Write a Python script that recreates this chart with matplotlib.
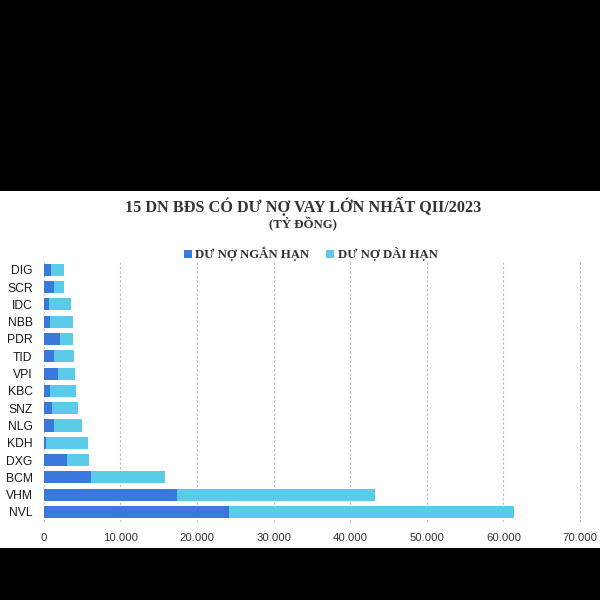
import matplotlib
matplotlib.use("Agg")
import matplotlib.pyplot as plt
from matplotlib.ticker import FuncFormatter

companies = ["NVL", "VHM", "BCM", "DXG", "KDH", "NLG", "SNZ", "KBC",
             "VPI", "TID", "PDR", "NBB", "IDC", "SCR", "DIG"]
short_term = [24220, 17360, 6210, 3000, 350, 1350, 1130, 870,
              1870, 1350, 2100, 780, 650, 1300, 1000]
long_term = [37200, 25940, 9680, 2900, 5420, 3690, 3390, 3300,
             2170, 2550, 1700, 3020, 2850, 1350, 1600]
x_ticks = [0, 10000, 20000, 30000, 40000, 50000, 60000, 70000]

title = "15 DN BĐS CÓ DƯ NỢ VAY LỚN NHẤT QII/2023"
subtitle = "(TỶ ĐỒNG)"
legend_labels = ["DƯ NỢ NGẮN HẠN", "DƯ NỢ DÀI HẠN"]

dark = "#3b78db"
light = "#5ccbe9"

fig = plt.figure(figsize=(6, 6), dpi=100)
fig.patch.set_facecolor("black")
bg = fig.add_axes([0, (600 - 548) / 600, 1, (548 - 191) / 600], zorder=-5)
bg.set_facecolor("white")
bg.set_xticks([])
bg.set_yticks([])
for s in bg.spines.values():
    s.set_visible(False)

ppx = (580 - 43.7) / 70000.0
ax = fig.add_axes([43.7 / 600, (600 - 522) / 600, (70500 * ppx) / 600, 260 / 600], zorder=1)
ax.set_facecolor("none")
pos = list(range(len(companies)))
ax.barh(pos, short_term, height=0.7, color=dark, label=legend_labels[0], zorder=3)
ax.barh(pos, long_term, left=short_term, height=0.7, color=light,
        label=legend_labels[1], zorder=3)

ax.set_xlim(0, 70500)
ax.set_ylim(-0.58, 14.45)
ax.set_xticks(x_ticks)
ax.xaxis.set_major_formatter(FuncFormatter(lambda v, p: f"{int(v):,}".replace(",", ".")))
ax.set_yticks(pos)
ax.set_yticklabels(companies)
for s in ax.spines.values():
    s.set_visible(False)
ax.tick_params(axis="both", length=0)
ax.tick_params(axis="x", pad=8, labelsize=8.2, labelcolor="#333333")
ax.tick_params(axis="y", pad=8, labelsize=8.7, labelcolor="#1a1a1a")
for lab in ax.get_xticklabels() + ax.get_yticklabels():
    lab.set_family("Liberation Sans")
ax.xaxis.grid(True, linestyle=(0, (2, 2)), color="#bbbbbb", linewidth=0.8, zorder=1)
ax.set_axisbelow(True)

fig.text(0.505, (600 - 207) / 600, title, ha="center", va="center",
         family="Liberation Serif", fontsize=11.7, fontweight="bold", color="#333333")
fig.text(0.505, (600 - 224) / 600, subtitle, ha="center", va="center",
         family="Liberation Serif", fontsize=9.2, fontweight="bold", color="#333333")

leg = fig.legend(loc="center", bbox_to_anchor=(0.518, (600 - 254) / 600), ncol=2,
                 frameon=False, handlelength=0.6, handleheight=0.6,
                 handletextpad=0.3, columnspacing=1.3,
                 prop={"family": "Liberation Serif", "size": 9.2, "weight": "bold"})
for t in leg.get_texts():
    t.set_color("#333333")

fig.savefig("out.png", dpi=100, facecolor=fig.get_facecolor())
